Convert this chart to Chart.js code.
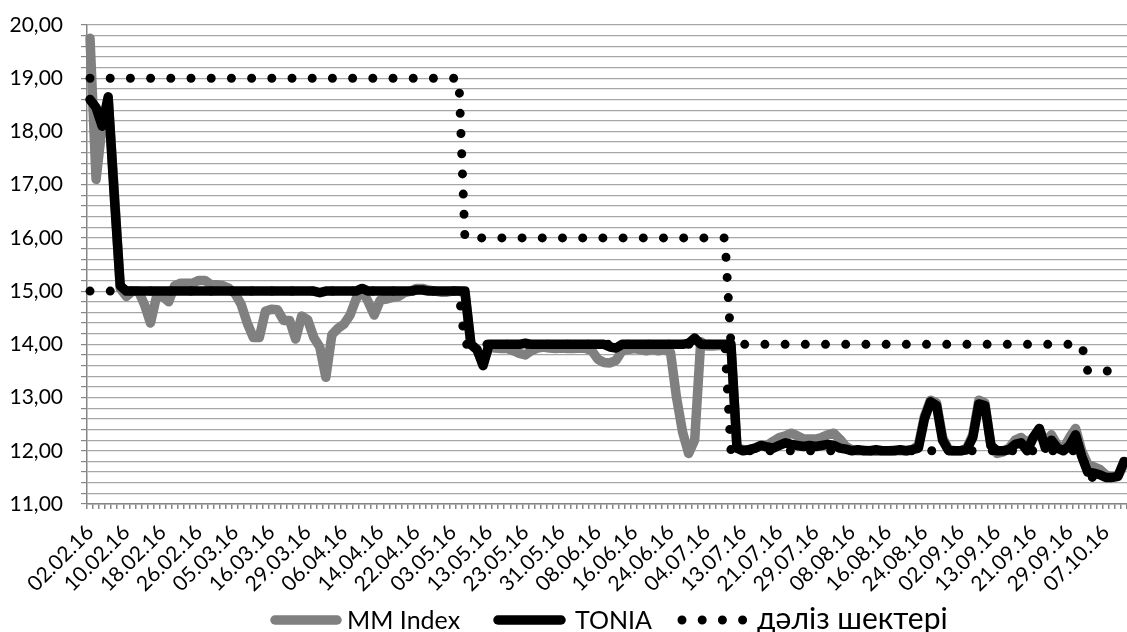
<!DOCTYPE html>
<html>
<head>
<meta charset="utf-8">
<script src="https://cdn.jsdelivr.net/npm/chart.js@4.4.1/dist/chart.umd.min.js"></script>
<style>
  html, body { margin: 0; padding: 0; background: #fff; }
  #wrap { width: 1127px; height: 632px; }
</style>
</head>
<body>
<div id="wrap"><canvas id="chart" width="1127" height="632"></canvas></div>
<script>
// Даты торговых дней (категории оси X)
const dates = [
  '02.02.16','03.02.16','04.02.16','05.02.16','08.02.16','09.02.16','10.02.16','11.02.16','12.02.16','15.02.16',
  '16.02.16','17.02.16','18.02.16','19.02.16','22.02.16','23.02.16','24.02.16','25.02.16','26.02.16','29.02.16',
  '01.03.16','02.03.16','03.03.16','04.03.16','05.03.16','09.03.16','10.03.16','11.03.16','14.03.16','15.03.16',
  '16.03.16','17.03.16','18.03.16','24.03.16','25.03.16','28.03.16','29.03.16','30.03.16','31.03.16','01.04.16',
  '04.04.16','05.04.16','06.04.16','07.04.16','08.04.16','11.04.16','12.04.16','13.04.16','14.04.16','15.04.16',
  '18.04.16','19.04.16','20.04.16','21.04.16','22.04.16','25.04.16','26.04.16','27.04.16','28.04.16','29.04.16',
  '03.05.16','04.05.16','05.05.16','06.05.16','11.05.16','12.05.16','13.05.16','16.05.16','17.05.16','18.05.16',
  '19.05.16','20.05.16','23.05.16','24.05.16','25.05.16','26.05.16','27.05.16','30.05.16','31.05.16','01.06.16',
  '02.06.16','03.06.16','06.06.16','07.06.16','08.06.16','09.06.16','10.06.16','13.06.16','14.06.16','15.06.16',
  '16.06.16','17.06.16','20.06.16','21.06.16','22.06.16','23.06.16','24.06.16','27.06.16','28.06.16','29.06.16',
  '30.06.16','01.07.16','04.07.16','05.07.16','07.07.16','08.07.16','11.07.16','12.07.16','13.07.16','14.07.16',
  '15.07.16','18.07.16','19.07.16','20.07.16','21.07.16','22.07.16','25.07.16','26.07.16','27.07.16','28.07.16',
  '29.07.16','01.08.16','02.08.16','03.08.16','04.08.16','05.08.16','08.08.16','09.08.16','10.08.16','11.08.16',
  '12.08.16','15.08.16','16.08.16','17.08.16','18.08.16','19.08.16','22.08.16','23.08.16','24.08.16','25.08.16',
  '26.08.16','29.08.16','31.08.16','01.09.16','02.09.16','05.09.16','06.09.16','07.09.16','08.09.16','09.09.16',
  '13.09.16','14.09.16','15.09.16','16.09.16','19.09.16','20.09.16','21.09.16','22.09.16','23.09.16','26.09.16',
  '27.09.16','28.09.16','29.09.16','30.09.16','03.10.16','04.10.16','05.10.16','06.10.16','07.10.16','10.10.16',
  '11.10.16','12.10.16'
];

// MM Index (серая линия)
const mmIndex = [
  19.75, 17.10, 18.10, 18.60, 16.90, 15.05, 14.90, 15.00, 15.00, 14.75,
  14.40, 14.90, 14.90, 14.80, 15.10, 15.15, 15.15, 15.15, 15.20, 15.20,
  15.12, 15.12, 15.10, 15.05, 14.95, 14.75, 14.40, 14.13, 14.13, 14.62,
  14.66, 14.65, 14.45, 14.45, 14.10, 14.53, 14.46, 14.13, 13.95, 13.38,
  14.18, 14.30, 14.38, 14.55, 14.85, 15.03, 14.80, 14.55, 14.83, 14.85,
  14.88, 14.90, 14.97, 15.00, 15.05, 15.05, 15.02, 15.00, 14.98, 14.98,
  15.00, 15.00, 14.97, 14.00, 13.90, 13.65, 13.95, 13.93, 13.92, 13.92,
  13.88, 13.83, 13.80, 13.88, 13.93, 13.95, 13.93, 13.92, 13.93, 13.92,
  13.92, 13.93, 13.92, 13.88, 13.72, 13.66, 13.65, 13.70, 13.88, 13.90,
  13.92, 13.90, 13.88, 13.90, 13.88, 13.90, 13.85, 13.00, 12.35, 11.95,
  12.20, 14.05, 13.97, 13.97, 13.98, 13.98, 13.97, 12.05, 12.02, 12.02,
  12.05, 12.10, 12.10, 12.18, 12.25, 12.28, 12.33, 12.28, 12.22, 12.22,
  12.22, 12.25, 12.30, 12.33, 12.22, 12.08, 12.02, 12.00, 12.01, 12.00,
  11.99, 12.00, 12.00, 12.01, 12.00, 12.00, 12.02, 12.10, 12.65, 12.95,
  12.90, 12.25, 12.02, 12.00, 12.00, 12.05, 12.30, 12.95, 12.90, 12.10,
  11.95, 11.98, 12.05, 12.20, 12.25, 12.15, 12.25, 12.40, 12.15, 12.30,
  12.10, 12.05, 12.25, 12.42, 12.00, 11.75, 11.70, 11.65, 11.55, 11.50,
  11.52, 11.75
];

// TONIA (чёрная линия)
const tonia = [
  18.60, 18.45, 18.10, 18.65, 16.80, 15.10, 15.00, 15.00, 15.00, 15.00,
  15.00, 15.00, 15.00, 15.00, 15.00, 15.00, 15.00, 15.00, 15.00, 15.00,
  15.00, 15.00, 15.00, 15.00, 15.00, 15.00, 15.00, 15.00, 15.00, 15.00,
  15.00, 15.00, 15.00, 15.00, 15.00, 15.00, 15.00, 15.00, 14.97, 15.00,
  15.00, 15.00, 15.00, 15.00, 15.00, 15.05, 15.00, 15.00, 15.00, 15.00,
  15.00, 15.00, 15.00, 15.00, 15.02, 15.02, 15.00, 15.00, 15.00, 15.00,
  15.00, 15.00, 15.00, 14.00, 13.90, 13.60, 14.00, 14.00, 14.00, 14.00,
  14.00, 14.00, 14.02, 14.00, 14.00, 14.00, 14.00, 14.00, 14.00, 14.00,
  14.00, 14.00, 14.00, 14.00, 14.00, 14.00, 13.95, 13.93, 14.00, 14.00,
  14.00, 14.00, 14.00, 14.00, 14.00, 14.00, 14.00, 14.00, 14.00, 14.02,
  14.12, 14.00, 14.00, 14.00, 14.00, 14.00, 14.00, 12.05, 12.00, 12.02,
  12.05, 12.10, 12.07, 12.05, 12.10, 12.15, 12.12, 12.10, 12.08, 12.10,
  12.08, 12.10, 12.12, 12.10, 12.05, 12.03, 12.00, 12.02, 12.00, 12.00,
  12.02, 12.00, 12.00, 12.00, 12.02, 12.00, 12.02, 12.05, 12.60, 12.92,
  12.85, 12.20, 12.00, 12.00, 12.00, 12.02, 12.25, 12.88, 12.85, 12.10,
  12.00, 12.00, 12.02, 12.12, 12.15, 12.00, 12.25, 12.42, 12.05, 12.20,
  12.05, 12.00, 12.10, 12.30, 11.90, 11.60, 11.58, 11.55, 11.50, 11.50,
  11.52, 11.80
];

// Дәліз шектері: верхняя и нижняя граница коридора
const corridorUpper = [
  19, 19, 19, 19, 19, 19, 19, 19, 19, 19, 19, 19, 19, 19, 19, 19, 19, 19, 19, 19,
  19, 19, 19, 19, 19, 19, 19, 19, 19, 19, 19, 19, 19, 19, 19, 19, 19, 19, 19, 19,
  19, 19, 19, 19, 19, 19, 19, 19, 19, 19, 19, 19, 19, 19, 19, 19, 19, 19, 19, 19,
  19, 19, 16, 16, 16, 16, 16, 16, 16, 16, 16, 16, 16, 16, 16, 16, 16, 16, 16, 16,
  16, 16, 16, 16, 16, 16, 16, 16, 16, 16, 16, 16, 16, 16, 16, 16, 16, 16, 16, 16,
  16, 16, 16, 16, 16, 16, 14, 14, 14, 14, 14, 14, 14, 14, 14, 14, 14, 14, 14, 14,
  14, 14, 14, 14, 14, 14, 14, 14, 14, 14, 14, 14, 14, 14, 14, 14, 14, 14, 14, 14,
  14, 14, 14, 14, 14, 14, 14, 14, 14, 14, 14, 14, 14, 14, 14, 14, 14, 14, 14, 14,
  14, 14, 14, 14, 14, 13.5, 13.5, 13.5, 13.5, 13.5, 13.5, 13.5
];
const corridorLower = [
  15, 15, 15, 15, 15, 15, 15, 15, 15, 15, 15, 15, 15, 15, 15, 15, 15, 15, 15, 15,
  15, 15, 15, 15, 15, 15, 15, 15, 15, 15, 15, 15, 15, 15, 15, 15, 15, 15, 15, 15,
  15, 15, 15, 15, 15, 15, 15, 15, 15, 15, 15, 15, 15, 15, 15, 15, 15, 15, 15, 15,
  15, 15, 14, 14, 14, 14, 14, 14, 14, 14, 14, 14, 14, 14, 14, 14, 14, 14, 14, 14,
  14, 14, 14, 14, 14, 14, 14, 14, 14, 14, 14, 14, 14, 14, 14, 14, 14, 14, 14, 14,
  14, 14, 14, 14, 14, 14, 12, 12, 12, 12, 12, 12, 12, 12, 12, 12, 12, 12, 12, 12,
  12, 12, 12, 12, 12, 12, 12, 12, 12, 12, 12, 12, 12, 12, 12, 12, 12, 12, 12, 12,
  12, 12, 12, 12, 12, 12, 12, 12, 12, 12, 12, 12, 12, 12, 12, 12, 12, 12, 12, 12,
  12, 12, 12, 12, 12, 11.5, 11.5, 11.5, 11.5, 11.5, 11.5, 11.5
];

// Шкала Y и подписи легенды
const yMin = 11, yMax = 20, yStep = 0.2;
const legendNames = ['MM Index', 'TONIA', 'дəліз шектері'];

const FONT = 'Lato, "Open Sans", sans-serif';
const dotDash = [0, 20.2];

// Легенда внизу, рисуется вручную по стилям наборов данных
const bottomLegend = {
  id: 'bottomLegend',
  afterDraw(chart) {
    const ctx = chart.ctx;
    const y = 620;
    const items = [
      { ds: 0, x1: 275, x2: 337, tx: 347, size: 25, text: legendNames[0] },
      { ds: 1, x1: 498, x2: 561, tx: 575, size: 25, text: legendNames[1] },
      { ds: 2, x1: 682, x2: 743, tx: 757, size: 30, text: legendNames[2] }
    ];
    ctx.save();
    items.forEach(it => {
      const d = chart.data.datasets[it.ds];
      ctx.beginPath();
      ctx.lineWidth = d.borderWidth;
      ctx.strokeStyle = d.borderColor;
      ctx.lineCap = 'round';
      ctx.setLineDash(d.borderDash || []);
      ctx.moveTo(it.x1, y);
      ctx.lineTo(it.x2, y);
      ctx.stroke();
      ctx.setLineDash([]);
      ctx.fillStyle = '#000';
      ctx.font = it.size + 'px ' + FONT;
      ctx.textBaseline = 'alphabetic';
      ctx.textAlign = 'left';
      ctx.fillText(it.text, it.tx, y + 9);
    });
    ctx.restore();
  }
};

const ctx = document.getElementById('chart').getContext('2d');
const chart = new Chart(ctx, {
  type: 'line',
  data: {
    labels: dates,
    datasets: [
      {
        label: legendNames[0],
        data: mmIndex,
        borderColor: '#808080',
        borderWidth: 9.5,
        order: 4
      },
      {
        label: legendNames[1],
        data: tonia,
        borderColor: '#000000',
        borderWidth: 9.5,
        order: 3
      },
      {
        label: legendNames[2],
        data: corridorUpper,
        borderColor: '#000000',
        borderWidth: 9,
        borderDash: dotDash,
        order: 2
      },
      {
        label: legendNames[2] + ' ',
        data: corridorLower,
        borderColor: '#000000',
        borderWidth: 9,
        borderDash: dotDash,
        order: 1
      }
    ]
  },
  options: {
    responsive: false,
    animation: false,
    devicePixelRatio: 1,
    layout: { padding: { top: 25, right: 0, bottom: 0, left: 0 } },
    elements: {
      point: { radius: 0, hoverRadius: 0 },
      line: {
        tension: 0,
        fill: false,
        borderCapStyle: 'round',
        borderJoinStyle: 'round'
      }
    },
    plugins: {
      legend: { display: false },
      tooltip: { enabled: false },
      title: { display: false }
    },
    scales: {
      x: {
        type: 'category',
        offset: true,
        afterFit(scale) {
          scale.height = 128;
          scale.paddingLeft = 0;
          scale.paddingRight = 0;
        },
        grid: {
          offset: true,
          drawOnChartArea: false,
          drawTicks: true,
          tickLength: 5,
          tickColor: '#868686',
          lineWidth: 1.5
        },
        border: { color: '#868686', width: 1.5 },
        ticks: {
          autoSkip: false,
          minRotation: 45,
          maxRotation: 45,
          padding: 11,
          color: '#000',
          font: { family: FONT, size: 21 },
          callback: (val, idx) => (idx % 6 === 0 ? dates[idx] : '')
        }
      },
      y: {
        min: yMin,
        max: yMax,
        afterFit(scale) {
          scale.width = 87;
          scale.paddingTop = 0;
          scale.paddingBottom = 0;
        },
        grid: {
          color: '#a6a6a6',
          lineWidth: 1.2,
          drawTicks: true,
          tickLength: 6,
          tickColor: '#868686'
        },
        border: { color: '#868686', width: 1.5 },
        ticks: {
          stepSize: yStep,
          autoSkip: false,
          padding: 18,
          color: '#000',
          font: { family: FONT, size: 21 },
          callback: v => (Math.abs(v - Math.round(v)) < 1e-6 ? Math.round(v).toFixed(2).replace('.', ',') : '')
        }
      }
    }
  },
  plugins: [bottomLegend]
});
</script>
</body>
</html>
